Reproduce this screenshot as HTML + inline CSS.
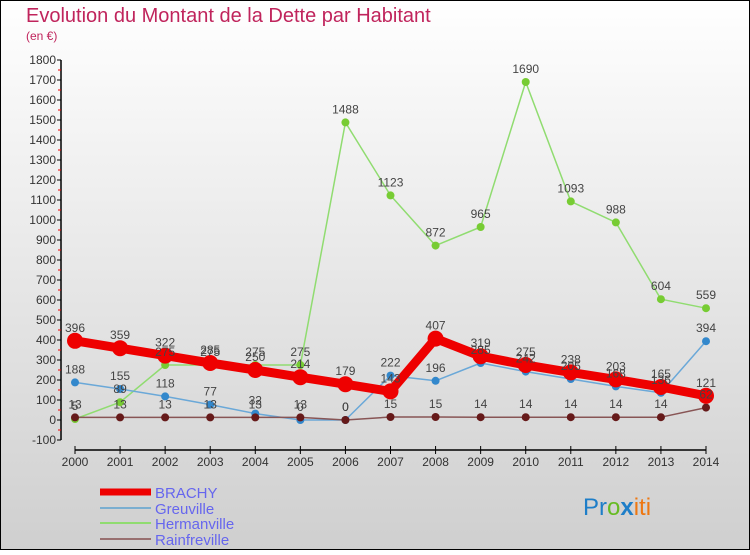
<!DOCTYPE html>
<html><head><meta charset="utf-8">
<style>
html,body{margin:0;padding:0;}
body{width:750px;height:550px;overflow:hidden;font-family:"Liberation Sans",sans-serif;}
svg text{font-family:"Liberation Sans",sans-serif;}
</style></head>
<body>
<svg id="chart" width="750" height="550" xmlns="http://www.w3.org/2000/svg">
<defs>
<linearGradient id="bg" x1="0" y1="0" x2="0" y2="1">
<stop offset="0" stop-color="#ffffff"/><stop offset="1" stop-color="#cfcfcf"/>
</linearGradient>
</defs>
<rect x="0" y="0" width="750" height="550" fill="url(#bg)" stroke="#000" stroke-width="2"/>
<text x="26" y="22" font-size="20" fill="#c0245c">Evolution du Montant de la Dette par Habitant</text>
<text x="26" y="40" font-size="12" fill="#c0245c">(en €)</text>
<g id="axes"></g>
<g id="series"></g>
<g id="labels"></g>
<g>
<line x1="100" y1="492" x2="151" y2="492" stroke="#ee0000" stroke-width="7"/>
<text x="155" y="498" font-size="15" fill="#6666ee">BRACHY</text>
<line x1="100" y1="508" x2="151" y2="508" stroke="#7aaed0" stroke-width="2"/>
<text x="155" y="514" font-size="15" fill="#6666ee">Greuville</text>
<line x1="100" y1="523" x2="151" y2="523" stroke="#90dc70" stroke-width="2"/>
<text x="155" y="529" font-size="15" fill="#6666ee">Hermanville</text>
<line x1="100" y1="539" x2="151" y2="539" stroke="#987070" stroke-width="2"/>
<text x="155" y="545" font-size="15" fill="#6666ee">Rainfreville</text>
</g>
<text x="583" y="515" font-size="24"><tspan fill="#1e7ec8">Pr</tspan><tspan fill="#66bb22">o</tspan><tspan fill="#1e7ec8" font-weight="bold">x</tspan><tspan fill="#ee7711">iti</tspan></text>
</svg>
<script>
const years=[2000,2001,2002,2003,2004,2005,2006,2007,2008,2009,2010,2011,2012,2013,2014];
const brachy=[396,359,322,285,250,214,179,143,407,319,275,238,203,165,121];
const greuville=[188,155,118,77,32,0,0,222,196,285,242,205,168,136,394];
const hermanville=[5,89,275,275,275,275,1488,1123,872,965,1690,1093,988,604,559];
const rainfreville=[13,13,13,13,13,13,0,15,15,14,14,14,14,14,62];
const yTicks=[-100,0,100,200,300,400,500,600,700,800,900,1000,1100,1200,1300,1400,1500,1600,1700,1800];
const NS="http://www.w3.org/2000/svg";
function x(i){return 75+i*(706-75)/(years.length-1);}
function y(v){return 420-v*0.2;}
function mk(tag,attrs,parent,txt){const e=document.createElementNS(NS,tag);for(const k in attrs)e.setAttribute(k,attrs[k]);if(txt!==undefined)e.textContent=txt;parent.appendChild(e);return e;}
const axes=document.getElementById('axes');
let a=mk('line',{x1:61,y1:y(1800),x2:61,y2:y(-100),stroke:'#000','stroke-width':1.5},axes);


a=mk('line',{x1:x(0),y1:450,x2:x(14),y2:450,stroke:'#000','stroke-width':1.5},axes);


yTicks.forEach(v=>{
 mk('line',{x1:57,y1:y(v),x2:61,y2:y(v),stroke:'#000'},axes);
 if(v<1800) mk('line',{x1:58,y1:y(v+50),x2:61,y2:y(v+50),stroke:'#e00'},axes);
 const t=mk('text',{x:56,y:y(v)+4,'font-size':12,'text-anchor':'end',fill:'#333'},axes,String(v));
 
 
});
years.forEach((yr,i)=>{
 mk('line',{x1:x(i),y1:446,x2:x(i),y2:454,stroke:'#000'},axes);
 const t=mk('text',{x:x(i),y:466,'font-size':12,'text-anchor':'middle',fill:'#333'},axes,String(yr));
 
 
});
const ser=document.getElementById('series'),lab=document.getElementById('labels');
function draw(data,name,color,dot,w,r){
 const g=mk('g',{},ser);
 
 
 mk('polyline',{points:data.map((v,i)=>x(i)+','+y(v)).join(' '),fill:'none',stroke:color,'stroke-width':w,'stroke-linejoin':'round'},g);
 data.forEach((v,i)=>{
  const c=mk('circle',{cx:x(i),cy:y(v),r:r,fill:dot},g);
  
  
  const t=mk('text',{x:x(i),y:y(v)-9,'font-size':12,'text-anchor':'middle',fill:'#444'},lab,String(v));
  
  
 });
}
draw(hermanville,'hermanville','#90dc70','#77cc33',1.5,4);
draw(greuville,'greuville','#6aa8d8','#3388cc',1.5,4);
draw(rainfreville,'rainfreville','#885555','#661a1a',1.5,4);
draw(brachy,'brachy','#ee0000','#ee0000',9,8);
</script>
</body></html>
